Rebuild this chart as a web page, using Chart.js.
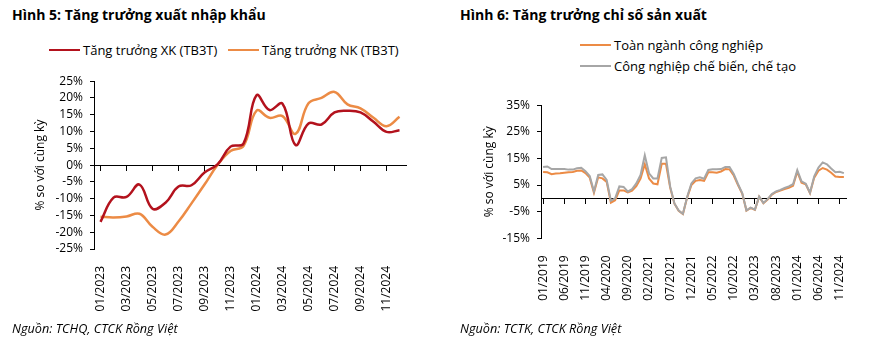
<!DOCTYPE html>
<html><head><meta charset="utf-8">
<script src="https://cdn.jsdelivr.net/npm/chart.js@4.4.1/dist/chart.umd.min.js"></script>
<style>
body{margin:0;width:870px;height:344px;background:#fff;position:relative;overflow:hidden;font-family:'Open Sans',sans-serif;color:#000}
.t{position:absolute;font-weight:bold;font-size:14px;top:5px;line-height:20px;white-space:nowrap}
.src{position:absolute;font-style:italic;font-size:12.7px;top:319px;line-height:18px;white-space:nowrap}
.lg{position:absolute;font-size:13px;display:flex;align-items:center;white-space:nowrap;height:18px}
.lg i{display:inline-block;width:31px;height:2px;margin-right:3px}
canvas{position:absolute}
</style></head>
<body>
<div class="t" style="left:12px">Hình 5: Tăng trưởng xuất nhập khẩu</div>
<div class="t" style="left:460px">Hình 6: Tăng trưởng chỉ số sản xuất</div>
<div class="lg" style="left:49px;top:41px"><i style="background:#B3121D"></i>Tăng trưởng XK (TB3T)</div>
<div class="lg" style="left:228px;top:41px"><i style="background:#EC8B45"></i>Tăng trưởng NK (TB3T)</div>
<div class="lg" style="left:580px;top:36px"><i style="background:#EC8B45"></i>Toàn ngành công nghiệp</div>
<div class="lg" style="left:580px;top:57px"><i style="background:#A6A6A6"></i>Công nghiệp chế biến, chế tạo</div>
<canvas id="c1" width="430" height="262" style="left:0;top:67px"></canvas>
<canvas id="c2" width="430" height="230" style="left:440px;top:91px"></canvas>
<div class="src" style="left:12px">Nguồn: TCHQ, CTCK Rồng Việt</div>
<div class="src" style="left:460px">Nguồn: TCTK, CTCK Rồng Việt</div>
<script>
// ---------- Figure 5 data ----------
const monthsTrade = ['01/2023','02/2023','03/2023','04/2023','05/2023','06/2023','07/2023','08/2023','09/2023','10/2023','11/2023','12/2023',
  '01/2024','02/2024','03/2024','04/2024','05/2024','06/2024','07/2024','08/2024','09/2024','10/2024','11/2024','12/2024'];
const exportGrowth = [-16.9,-9.7,-9.5,-5.8,-13.0,-11.2,-6.4,-6.0,-2.2,0.2,5.5,6.4,20.8,16.4,18.3,6.0,12.4,12.1,15.7,16.2,15.7,12.9,9.9,10.4];
const importGrowth = [-15.4,-15.6,-15.3,-14.5,-18.4,-20.7,-16.8,-11.4,-5.8,0.0,4.2,5.7,16.2,14.1,14.6,9.3,18.4,20.0,21.8,18.1,16.9,14.1,11.6,14.4];
const yTicksTrade = [-25,-20,-15,-10,-5,0,5,10,15,20,25];

// ---------- Figure 6 data ----------
const monthsIIP = [];
for (let y = 2019; y <= 2024; y++) for (let m = 1; m <= 12; m++) monthsIIP.push((m < 10 ? '0' : '') + m + '/' + y);
const iipTotal = [9.9,9.8,9.1,9.3,9.4,9.6,9.8,9.9,10.4,10.5,9.5,7.8,
  2.1,7.9,7.5,6.2,-1.6,-0.7,3.0,3.0,2.2,2.9,4.6,7.4,
  12.8,7.5,5.6,5.3,13.0,13.0,4.0,-2.0,-4.7,-5.9,0.3,5.0,
  6.6,6.9,6.6,9.8,9.8,9.6,10.1,11.0,10.9,8.6,5.0,1.8,
  -4.6,-3.6,-4.3,0.6,-1.8,-0.4,1.4,2.4,2.9,3.5,4.0,4.7,
  10.0,5.9,5.3,2.0,7.8,10.4,11.4,10.8,9.6,8.2,8.0,8.0];
const iipManufacturing = [11.8,12.0,11.0,11.0,11.0,11.0,10.8,10.8,11.3,11.5,10.2,8.4,
  2.6,8.8,9.0,6.9,-0.9,0.0,4.5,4.3,2.5,3.5,5.6,8.8,
  16.2,9.4,7.5,7.5,15.2,15.4,4.4,-1.9,-4.6,-5.8,0.5,5.6,
  7.5,7.9,7.4,10.7,10.9,10.9,11.0,11.8,11.8,9.2,5.4,2.0,
  -4.5,-3.5,-4.2,0.7,-1.7,-0.3,1.6,2.6,3.2,3.9,4.5,5.3,
  10.6,6.4,5.5,2.1,8.3,11.6,13.5,12.8,11.2,9.8,10.0,9.5];
const yTicksIIP = [-15,-5,5,15,25,35];

const FONT = {family:"'Open Sans', sans-serif", size:12};
const BLACK = '#000';

function makeOptions(cfg) {
  return {
    responsive:false, animation:false, events:[],
    layout:{padding:{top:4,left:12,right:24,bottom:0}},
    plugins:{legend:{display:false}, tooltip:{enabled:false}},
    scales:{
      x:{type:'category', offset:true, position:'bottom',
        grid:{display:false}, border:{display:false},
        ticks:{autoSkip:false, minRotation:90, maxRotation:90, padding:cfg.xPad, color:BLACK, font:FONT,
          callback:function(v,i){ return i % cfg.every === 0 ? this.getLabelForValue(v) : ''; }},
        afterFit:s=>{ s.height = cfg.xHeight; }},
      x0:{type:'category', axis:'x', labels:cfg.labels, offset:true, position:{y:0},
        ticks:{display:false},
        grid:{drawOnChartArea:false, drawTicks:true, tickLength:5, lineWidth:1,
          color:c=> (c.index === undefined ? (cfg.lastTick ? BLACK : 'rgba(0,0,0,0)') : (c.index % cfg.every === 0 ? BLACK : 'rgba(0,0,0,0)'))},
        border:{display:true, color:BLACK, width:1}},
      y:{type:'linear', min:cfg.yTicks[0], max:cfg.yTicks[cfg.yTicks.length-1],
        afterBuildTicks:s=>{ s.ticks = cfg.yTicks.map(v=>({value:v})); },
        ticks:{autoSkip:false, callback:v=>v+'%', padding:7, color:BLACK, font:FONT},
        grid:{drawOnChartArea:false, drawTicks:true, tickLength:4, color:BLACK},
        border:{display:true, color:BLACK, width:1},
        title:{display:true, text:'% so với cùng kỳ', color:BLACK, font:FONT, padding:{top:cfg.titlePad, bottom:0}},
        afterFit:s=>{ s.width = cfg.yWidth; }}
    }
  };
}

new Chart(document.getElementById('c1'), {
  type:'line',
  data:{labels:monthsTrade, datasets:[
    {label:'Tăng trưởng XK (TB3T)', data:exportGrowth, borderColor:'#B3121D', borderWidth:2.5, pointRadius:0, tension:0.4, fill:false},
    {label:'Tăng trưởng NK (TB3T)', data:importGrowth, borderColor:'#EC8B45', borderWidth:2.5, pointRadius:0, tension:0.4, fill:false}
  ]},
  options:makeOptions({labels:monthsTrade, every:2, lastTick:true, yTicks:yTicksTrade, xHeight:80, xPad:9, yWidth:82, titlePad:21})
});

new Chart(document.getElementById('c2'), {
  type:'line',
  data:{labels:monthsIIP, datasets:[
    {label:'Toàn ngành công nghiệp', data:iipTotal, borderColor:'#EC8B45', borderWidth:2, pointRadius:0, tension:0, fill:false, order:1},
    {label:'Công nghiệp chế biến, chế tạo', data:iipManufacturing, borderColor:'#A6A6A6', borderWidth:2, pointRadius:0, tension:0, fill:false, order:0}
  ]},
  options:makeOptions({labels:monthsIIP, every:5, lastTick:false, yTicks:yTicksIIP, xHeight:82.7, xPad:9, yWidth:89, titlePad:30})
});
</script>
</body></html>
